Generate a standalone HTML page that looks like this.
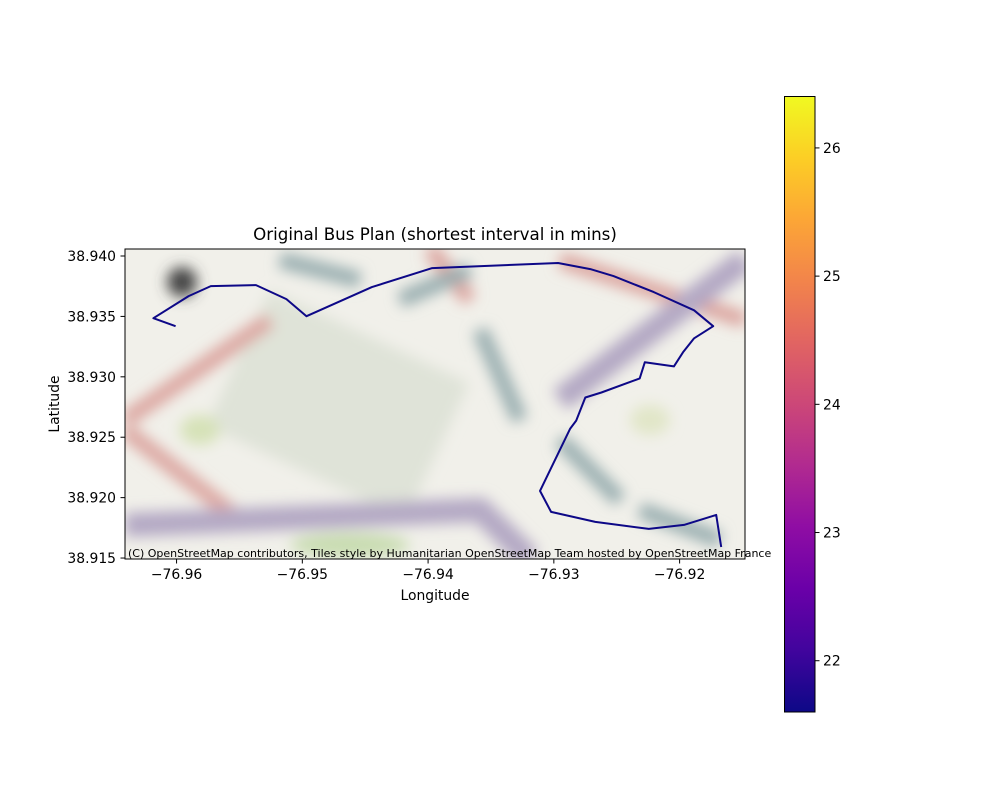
<!DOCTYPE html>
<html><head><meta charset="utf-8"><style>
body{margin:0;background:#fff;}
svg text{font-family:"DejaVu Sans","Liberation Sans",sans-serif;fill:#000;}
</style></head><body>
<svg id="chart" width="1000" height="800" viewBox="0 0 1000 800">
<defs>
<filter id="blur" x="-20%" y="-20%" width="140%" height="140%"><feGaussianBlur stdDeviation="7"/></filter>
<clipPath id="clip"><rect x="125" y="249" width="620" height="310"/></clipPath>
<linearGradient id="plasma" x1="0" y1="1" x2="0" y2="0">
<stop offset="0" stop-color="#0d0887"/><stop offset="0.1" stop-color="#41049d"/>
<stop offset="0.2" stop-color="#6a00a8"/><stop offset="0.3" stop-color="#8f0da4"/>
<stop offset="0.4" stop-color="#b12a90"/><stop offset="0.5" stop-color="#cc4778"/>
<stop offset="0.6" stop-color="#e16462"/><stop offset="0.7" stop-color="#f2844b"/>
<stop offset="0.8" stop-color="#fca636"/><stop offset="0.9" stop-color="#fcce25"/>
<stop offset="1" stop-color="#f0f921"/></linearGradient>
</defs>
<text x="435" y="240" font-size="16.7" text-anchor="middle">Original Bus Plan (shortest interval in mins)</text>
<g clip-path="url(#clip)">
<rect x="125" y="249" width="620" height="310" fill="#f1f0ea"/>
<g filter="url(#blur)">
<rect x="230" y="330" width="220" height="150" fill="#dfe3d8" transform="rotate(25 340 400)"/>
<path d="M125 420 L270 320 M125 430 L240 520 M430 249 L470 300 M560 260 L745 320" stroke="#dca6a0" stroke-width="16" fill="none"/>
<path d="M125 525 L480 510 L530 559 M560 400 L745 260" stroke="#b4a9c4" stroke-width="24" fill="none"/>
<circle cx="182" cy="282" r="15" fill="#444"/>
<path d="M280 260 L360 280 M400 300 L470 270 M480 330 L520 420 M560 440 L620 500 M640 510 L720 540" stroke="#99aeb0" stroke-width="16" fill="none"/>
<ellipse cx="200" cy="430" rx="20" ry="15" fill="#d6e2b8"/>
<ellipse cx="650" cy="420" rx="20" ry="15" fill="#e1e6c8"/>
<ellipse cx="350" cy="545" rx="60" ry="12" fill="#c8dcb0"/>
</g>
</g>
<rect x="125" y="249" width="620" height="310" fill="none" stroke="#000" stroke-width="1"/>
<g id="xticks"></g>
<g id="yticks"></g>
<polyline id="route" fill="none" stroke="#0d0887" stroke-width="2" stroke-linejoin="round"/>
<text x="128" y="557" font-size="11">(C) OpenStreetMap contributors, Tiles style by Humanitarian OpenStreetMap Team hosted by OpenStreetMap France</text>
<text x="435" y="600" font-size="13.9" text-anchor="middle">Longitude</text>
<text x="59" y="404" font-size="13.9" text-anchor="middle" transform="rotate(-90 59 404)">Latitude</text>
<rect x="784.5" y="96.5" width="30.5" height="615.5" fill="url(#plasma)" stroke="#000" stroke-width="1"/>
<g id="cticks"></g>
</svg>
<script>
const lons=[-76.96008,-76.96184,-76.95904,-76.95728,-76.95368,-76.95127,-76.94967,-76.94447,-76.93967,-76.92966,-76.92710,-76.92526,-76.92205,-76.91885,-76.91733,-76.91885,-76.91973,-76.92045,-76.92277,-76.92317,-76.92622,-76.92750,-76.92822,-76.92870,-76.93110,-76.93022,-76.92670,-76.92245,-76.91965,-76.91709,-76.91669];
const lats=[38.93419,38.93485,38.93668,38.93751,38.93759,38.93643,38.93502,38.93743,38.93900,38.93942,38.93892,38.93834,38.93701,38.93551,38.93419,38.93319,38.93203,38.93086,38.93120,38.92987,38.92870,38.92829,38.92638,38.92571,38.92056,38.91882,38.91799,38.91741,38.91774,38.91857,38.91591];
const xTicks=[-76.96,-76.95,-76.94,-76.93,-76.92];
const yTicks=[38.915,38.920,38.925,38.930,38.935,38.940];
const cTicks=[22,23,24,25,26];
const xDom=[-76.9641,-76.9148], yDom=[38.91492,38.94058], cDom=[21.6,26.405];
const X=v=>125+(v-xDom[0])/(xDom[1]-xDom[0])*620;
const Y=v=>559-(v-yDom[0])/(yDom[1]-yDom[0])*310;
const C=v=>712-(v-cDom[0])/(cDom[1]-cDom[0])*616;
const NS='http://www.w3.org/2000/svg';
function mk(tag,attrs,parent,text){const e=document.createElementNS(NS,tag);for(const k in attrs)e.setAttribute(k,attrs[k]);if(text!==undefined)e.textContent=text;parent.appendChild(e);return e;}
const route=document.getElementById('route');
route.setAttribute('points',lons.map((v,i)=>X(v).toFixed(1)+','+Y(lats[i]).toFixed(1)).join(' '));
const gx=document.getElementById('xticks');
xTicks.forEach(t=>{const x=X(t);
 const l=mk('line',{x1:x,x2:x,y1:559,y2:563.5,stroke:'#000'},gx);
 
 
 const s=mk('text',{x:x,y:579,'font-size':13.9,'text-anchor':'middle'},gx,'\u2212'+Math.abs(t).toFixed(2));
 
 });
const gy=document.getElementById('yticks');
yTicks.forEach(t=>{const y=Y(t);
 const l=mk('line',{x1:120.5,x2:125,y1:y,y2:y,stroke:'#000'},gy);
 
 
 const s=mk('text',{x:116,y:y+5,'font-size':13.9,'text-anchor':'end'},gy,t.toFixed(3));
 
 });
const gc=document.getElementById('cticks');
cTicks.forEach(t=>{const y=C(t);
 const l=mk('line',{x1:815,x2:819.5,y1:y,y2:y,stroke:'#000'},gc);
 
 
 const s=mk('text',{x:823,y:y+5,'font-size':13.9},gc,String(t));
 
 });
</script>
</body></html>
